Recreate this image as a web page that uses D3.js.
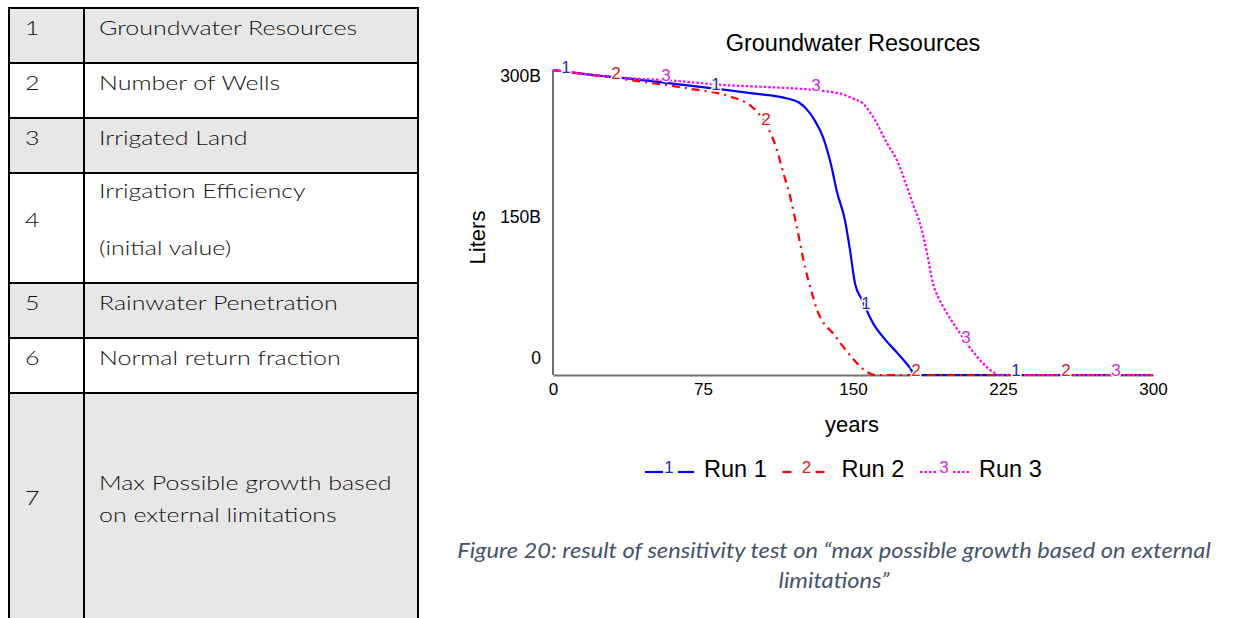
<!DOCTYPE html>
<html><head><meta charset="utf-8">
<script src="https://cdn.jsdelivr.net/npm/d3@7"></script>
<style>
html,body{margin:0;padding:0;background:#fff;}
svg{display:block;}
</style></head>
<body>
<svg id="c" width="1247" height="618"></svg>
<script>
// ---------- data ----------
const paramIds = ["1","2","3","4","5","6","7"];
const paramNames = [
  ["Groundwater Resources"],
  ["Number of Wells"],
  ["Irrigated Land"],
  ["Irrigation Efficiency","(initial value)"],
  ["Rainwater Penetration"],
  ["Normal return fraction"],
  ["Max Possible growth based","on external limitations"]
];
const chartTitle = "Groundwater Resources";
const xAxisTitle = "years";
const yAxisTitle = "Liters";
const xTicks = [0,75,150,225,300];
const yTicks = [0,150,300];
const yTickLabels = ["0","150B","300B"];
const runNames = ["Run 1","Run 2","Run 3"];
const runKeys = ["1","2","3"];
const run1Years  = [0,12,40,80,100,117,123,127,131,135,139,142,146,148.5,151,154.5,160,166,172,178.5,181,300];
const run1Values = [300,297,291,282,277,272,268,261,250,234,207,180,152,123,90,74,51,35,22,7,0,0];
const run2Years  = [0,20,50,67,90,98,102,107,112,115,118.5,122.5,126,129,132,135,140,145,150,157,161,300];
const run2Values = [300,295,287,282,273,266,259,245,221,200,176,140,106,84,64,52,41,28,16,3,0,0];
const run3Years  = [0,37,57,87,110,132,145,150,155,160,167,172,177,180,183.5,187,190,193,196,203.5,212,220,223,300];
const run3Values = [300,292,290,285,283,280,276,272,267,254,228,211,185,168,149,120,90,75,64,41,18,3,0,0];
const captionLines = ["Figure 20: result of sensitivity test on \u201cmax possible growth based on external","limitations\u201d"];

// ---------- styles ----------
const runColors = ["#0000ff","#ff0000","#ff00ff"];
const runLabelColors = ["#2b2bb0","#d62020","#d22ad2"];
const runDash = [null,"8,5,2,5","2.5,2"];
const legendDash = [null,"9,40","2.5,2"];

const svg = d3.select("#c");

// ---------- table ----------
const tbl = svg.append("g");
const rowTops = [8,63,118,173,283,338,393,640];
const colX = [9,84,418];
paramIds.forEach((id,i)=>{
  tbl.append("rect").attr("x",colX[0]).attr("y",rowTops[i]).attr("width",colX[2]-colX[0]).attr("height",rowTops[i+1]-rowTops[i])
    .attr("fill", i%2===0 ? "#e7e7e7" : "#ffffff");
});
rowTops.slice(0,7).forEach(t=>{
  tbl.append("line").attr("x1",colX[0]-1).attr("x2",colX[2]+1).attr("y1",t).attr("y2",t).attr("stroke","#000").attr("stroke-width",2);
});
colX.forEach(cx=>{
  tbl.append("line").attr("x1",cx).attr("x2",cx).attr("y1",rowTops[0]-1).attr("y2",618).attr("stroke","#000").attr("stroke-width",2);
});
const tfont = "Lato, 'Open Sans', sans-serif";
const sx = 1.25;
function ttext(str,x,y){
  tbl.append("text").attr("transform",`translate(${x},${y}) scale(${sx},1)`)
    .attr("font-family",tfont).attr("font-weight",300).attr("font-size",20).attr("fill","#111").text(str);
}
paramIds.forEach((id,i)=>{
  const top = rowTops[i];
  const lines = paramNames[i];
  let numY, lineYs;
  if (i===3){ numY = top+54; lineYs=[top+25, top+82]; }
  else if (i===6){ numY = 505; lineYs=[490,522]; }
  else { numY = top+27; lineYs=[top+27]; }
  ttext(id,25,numY);
  lines.forEach((l,k)=>ttext(l,99,lineYs[k]));
});

// ---------- chart ----------
const cfont = "'Liberation Sans', Arial, sans-serif";
const x = d3.scaleLinear().domain([0,300]).range([553,1153]);
const y = d3.scaleLinear().domain([0,300]).range([375,70]);
const yLab = d3.scaleLinear().domain([0,300]).range([358,76]);
const ch = svg.append("g");

ch.append("text").attr("x",853).attr("y",51).attr("text-anchor","middle")
  .attr("font-family",cfont).attr("font-size",23.5).attr("fill","#000").text(chartTitle);

// axes
const xAxis = d3.axisBottom(x).tickValues(xTicks).tickSize(0).tickPadding(8);
const gx = ch.append("g").attr("transform",`translate(0,${y(0)})`).call(xAxis);
gx.select(".domain").attr("stroke","#707070").attr("stroke-width",2);
gx.selectAll("text").attr("font-family",cfont).attr("font-size",17).attr("fill","#000");

const gy = ch.append("g").attr("transform",`translate(${x(0)},0)`);
gy.append("line").attr("x1",0).attr("x2",0).attr("y1",y(300)).attr("y2",y(0)).attr("stroke","#707070").attr("stroke-width",2);
gy.selectAll("text.yt").data(yTicks).join("text").attr("class","yt")
  .attr("x",-12).attr("y",d=>yLab(d)).attr("dy","0.35em").attr("text-anchor","end")
  .attr("font-family",cfont).attr("font-size",17.5).attr("fill","#000")
  .text((d,i)=>yTickLabels[i]);

ch.append("text").attr("transform",`translate(485,237.5) rotate(-90)`).attr("text-anchor","middle")
  .attr("font-family",cfont).attr("font-size",22).attr("fill","#000").text(yAxisTitle);
ch.append("text").attr("x",852).attr("y",432).attr("text-anchor","middle")
  .attr("font-family",cfont).attr("font-size",22).attr("fill","#000").text(xAxisTitle);

// lines
const runs = [
  {years:run1Years, values:run1Values},
  {years:run2Years, values:run2Values},
  {years:run3Years, values:run3Values}
];
const line = d3.line().x(d=>x(d[0])).y(d=>y(d[1])).curve(d3.curveMonotoneX);
runs.forEach((r,i)=>{
  const pts = r.years.map((yr,k)=>[yr,r.values[k]]);
  const p = ch.append("path").datum(pts).attr("d",line).attr("fill","none")
    .attr("stroke",runColors[i]).attr("stroke-width",2.2);
  if (runDash[i]) p.attr("stroke-dasharray",runDash[i]);
});
function valueAt(r,t){
  const ys=r.years, vs=r.values;
  for(let k=1;k<ys.length;k++){
    if(t<=ys[k]){ const f=(t-ys[k-1])/(ys[k]-ys[k-1]); return vs[k-1]+f*(vs[k]-vs[k-1]); }
  }
  return vs[vs.length-1];
}
runs.forEach((r,i)=>{
  for(let k=0;k<4;k++){
    const t = 6.5 + 25*i + 75*k;
    const v = valueAt(r,t);
    ch.append("text").attr("x",x(t)).attr("y",y(v)+1).attr("text-anchor","middle")
      .attr("font-family",cfont).attr("font-size",17).attr("fill",runLabelColors[i])
      .attr("stroke","#fff").attr("stroke-width",3).attr("paint-order","stroke")
      .text(runKeys[i]);
  }
});

// legend
const lg = ch.append("g");
const legY = 472;
runNames.forEach((nm,i)=>{
  const x0 = 645 + 137.5*i;
  const segs = [[0,18],[33,49]];
  segs.forEach(s=>{
    const l = lg.append("line").attr("x1",x0+s[0]).attr("x2",x0+s[1]).attr("y1",legY).attr("y2",legY)
      .attr("stroke",runColors[i]).attr("stroke-width",2.2);
    if (legendDash[i]) l.attr("stroke-dasharray",legendDash[i]);
  });
  lg.append("text").attr("x",x0+24).attr("y",legY+1).attr("text-anchor","middle")
    .attr("font-family",cfont).attr("font-size",17).attr("fill",runLabelColors[i]).text(runKeys[i]);
  lg.append("text").attr("x",x0+59).attr("y",legY+4.5)
    .attr("font-family",cfont).attr("font-size",23.5).attr("fill","#000").text(nm);
});

// caption
captionLines.forEach((c,k)=>{
  svg.append("text").attr("transform",`translate(834,${558+30*k}) scale(1.1,1)`).attr("text-anchor","middle")
    .attr("font-family",tfont).attr("font-style","italic").attr("font-size",21.5).attr("fill","#44546a").text(c);
});
</script>
</body></html>
